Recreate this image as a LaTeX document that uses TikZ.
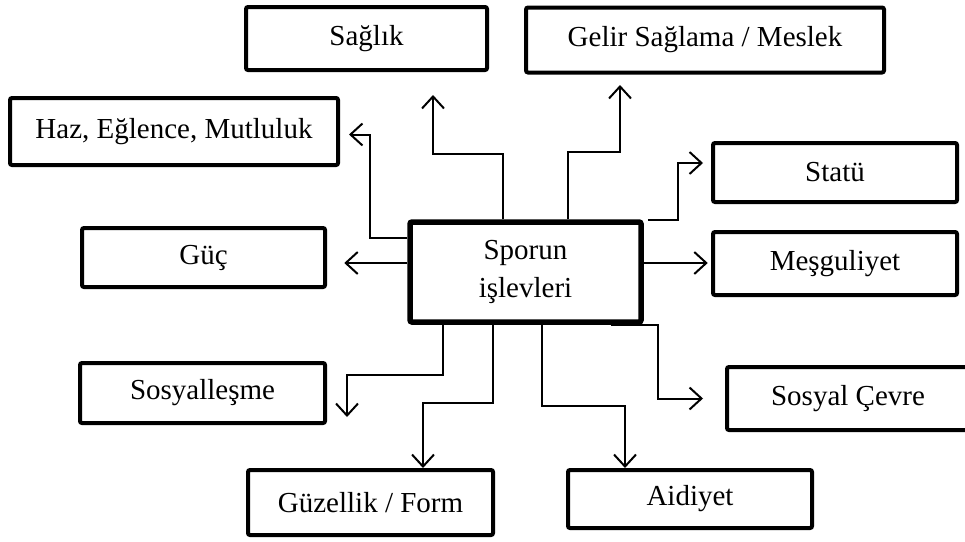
\documentclass[tikz,border=0pt]{standalone}
\usepackage{fontspec}
\setmainfont{Liberation Serif}
\usetikzlibrary{arrows.meta}
\tikzset{
  box/.style={draw=black, line width=4pt, rounded corners=2pt, fill=white,
    inner sep=0pt, font=\fontsize{29}{38}\selectfont, align=center},
  mainbox/.style={box, line width=5.5pt},
  conn/.style={draw=black, line width=2pt,
    -{Straight Barb[length=12pt,width=22pt,line width=2pt]}},
}
\begin{document}
\begin{tikzpicture}[x=1pt,y=-1pt]
\useasboundingbox (0,0) rectangle (965,541);
\node[box, minimum width=241pt, minimum height=63pt] (saglik) at (366.5,38.5) {Sağlık};
\node[box, minimum width=358pt, minimum height=65pt] (gelir) at (705,40) {Gelir Sağlama / Meslek};
\node[box, minimum width=328pt, minimum height=67pt] (haz) at (174,131.5) {Haz, Eğlence, Mutluluk};
\node[box, minimum width=243pt, minimum height=59pt] (guc) at (203.5,257.5) {Güç};
\node[mainbox, minimum width=231pt, minimum height=100pt] (sporun) at (525.5,272) {Sporun\\işlevleri};
\node[box, minimum width=244pt, minimum height=59pt] (statu) at (835,172.5) {Statü};
\node[box, minimum width=244pt, minimum height=63pt] (mesgul) at (835,263.5) {Meşguliyet};
\node[box, minimum width=245pt, minimum height=60pt] (sosyal) at (202.5,393) {Sosyalleşme};
\node[box, minimum width=245pt, minimum height=65pt] (guzel) at (370.5,502.5) {Güzellik / Form};
\node[box, minimum width=244pt, minimum height=58pt] (aidiyet) at (690,499) {Aidiyet};
\node[box, minimum width=242pt, minimum height=63pt] (cevre) at (848,398.5) {Sosyal Çevre};

% connectors
\draw[conn] ([xshift=-22.5pt]sporun.north) -- ++(0,-65) -| ([xshift=66.5pt,yshift=-23pt]saglik.south);
\draw[conn] ([xshift=42.5pt]sporun.north) -- ++(0,-67) -| ([xshift=-85pt,yshift=-10.5pt]gelir.south);
\draw[conn] ([yshift=34pt]sporun.west) -- ++(-37,0) |- ([xshift=9pt,yshift=-3pt]haz.east);
\draw[conn] ([yshift=9pt]sporun.west) -- ++(-63,0);
\draw[conn] ([xshift=4pt,yshift=-1pt]sporun.north east) -- ++(30,0) |- ([xshift=-8pt,yshift=9.5pt]statu.west);
\draw[conn] ([yshift=9pt]sporun.east) -- ++(64,0);
\draw[conn] ([xshift=-82.5pt]sporun.south) -- ++(0,50) -| ([xshift=20pt,yshift=-24pt]sosyal.east);
\draw[conn] ([xshift=-32.5pt]sporun.south) -- ++(0,78) -| ([xshift=52.5pt]guzel.north);
\draw[conn] ([xshift=16.5pt]sporun.south) -- ++(0,81) -| ([xshift=-65pt]aidiyet.north);
\draw[conn] ([xshift=-33pt]sporun.south east) -- ++(47,0) |- ([xshift=-22pt]cevre.west);
\end{tikzpicture}
\end{document}
